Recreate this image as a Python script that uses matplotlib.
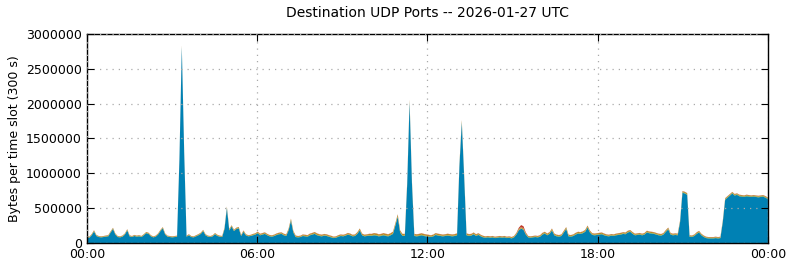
import numpy as np
import matplotlib
matplotlib.use("Agg")
import matplotlib.pyplot as plt

# bytes per 300 s slot, in thousands, one row per hour (12 slots)
udp_main = [
    80, 75, 110, 165, 100, 85, 80, 85, 90, 95, 150, 200,
    120, 85, 80, 90, 120, 180, 95, 85, 100, 90, 95, 85,
    110, 140, 130, 95, 80, 90, 120, 170, 210, 120, 90, 85,
    80, 85, 90, 1200, 2810, 1300, 90, 110, 85, 80, 95, 110,
    130, 170, 110, 90, 85, 95, 125, 100, 90, 85, 200, 500,
    180, 235, 170, 200, 210, 100, 160, 110, 95, 100, 110, 120,
    140, 110, 120, 130, 110, 95, 90, 100, 115, 125, 130, 110,
    100, 180, 320, 150, 85, 80, 85, 100, 95, 90, 110, 120,
    130, 110, 100, 95, 105, 100, 90, 80, 70, 75, 90, 100,
    95, 105, 120, 110, 95, 100, 130, 180, 110, 95, 100, 105,
    100, 110, 105, 95, 100, 110, 100, 95, 110, 130, 250, 375,
    150, 100, 100, 850, 2020, 850, 100, 95, 100, 110, 100, 95,
    90, 85, 95, 115, 105, 100, 95, 100, 105, 100, 95, 100,
    110, 1100, 1730, 950, 110, 100, 105, 125, 100, 115, 95, 80,
    75, 80, 75, 80, 70, 75, 80, 75, 80, 70, 75, 65,
    80, 120, 180, 205, 190, 120, 80, 75, 80, 85, 80, 90,
    120, 135, 110, 130, 180, 110, 95, 90, 100, 150, 200, 95,
    90, 100, 120, 135, 130, 140, 160, 220, 150, 115, 110, 115,
    120, 125, 110, 100, 95, 105, 100, 110, 115, 120, 130, 125,
    150, 160, 130, 110, 115, 120, 110, 120, 150, 140, 135, 130,
    120, 110, 105, 120, 160, 195, 120, 110, 115, 110, 300, 720,
    710, 690, 90, 85, 100, 130, 150, 110, 85, 70, 65, 65,
    65, 70, 65, 70, 300, 620, 650, 680, 710, 680, 690, 670,
    665, 660, 670, 665, 660, 665, 660, 655, 660, 665, 650, 630,
]

udp_green = [
    5, 5, 6, 6, 5, 5, 5, 5, 6, 6, 6, 6,
    5, 5, 5, 6, 6, 6, 5, 5, 5, 5, 6, 6,
    6, 6, 5, 5, 5, 5, 6, 6, 6, 5, 5, 5,
    5, 5, 5, 6, 8, 6, 5, 5, 5, 5, 5, 6,
    6, 6, 5, 5, 5, 5, 6, 6, 5, 5, 6, 8,
    6, 6, 6, 6, 6, 5, 6, 5, 5, 5, 6, 6,
    6, 6, 6, 6, 6, 5, 5, 6, 6, 6, 6, 6,
    6, 6, 8, 6, 5, 5, 5, 6, 6, 6, 6, 6,
    7, 7, 7, 6, 6, 6, 6, 6, 6, 6, 6, 6,
    6, 6, 6, 6, 6, 6, 6, 7, 6, 6, 6, 6,
    8, 8, 8, 8, 8, 8, 8, 8, 8, 8, 8, 8,
    8, 8, 8, 8, 8, 8, 8, 8, 8, 8, 8, 8,
    7, 7, 7, 7, 7, 7, 7, 7, 7, 7, 7, 7,
    7, 7, 8, 7, 7, 7, 7, 7, 7, 7, 6, 6,
    6, 6, 6, 6, 6, 6, 6, 6, 6, 6, 6, 6,
    6, 6, 6, 6, 6, 6, 6, 6, 6, 6, 6, 6,
    7, 7, 7, 7, 7, 7, 7, 7, 7, 7, 7, 7,
    7, 7, 7, 7, 7, 7, 7, 7, 7, 7, 7, 7,
    7, 7, 7, 7, 7, 7, 7, 7, 7, 7, 7, 7,
    7, 7, 7, 7, 7, 7, 7, 7, 7, 7, 7, 7,
    7, 7, 7, 7, 7, 7, 7, 7, 7, 7, 7, 8,
    8, 8, 7, 7, 7, 7, 7, 7, 7, 7, 7, 7,
    7, 7, 7, 7, 7, 8, 8, 8, 8, 8, 8, 8,
    8, 8, 8, 8, 8, 8, 8, 8, 8, 8, 8, 8,
]

udp_orange = [
    8, 8, 9, 10, 9, 8, 8, 8, 9, 9, 10, 10,
    9, 8, 8, 9, 9, 10, 9, 8, 9, 9, 9, 8,
    9, 10, 10, 9, 8, 9, 9, 10, 10, 9, 8, 8,
    8, 8, 8, 10, 12, 10, 9, 9, 8, 8, 9, 9,
    10, 10, 9, 9, 8, 9, 10, 10, 9, 9, 10, 12,
    12, 12, 12, 12, 12, 10, 12, 10, 10, 10, 12, 12,
    14, 14, 14, 14, 12, 12, 12, 12, 14, 14, 14, 14,
    14, 16, 18, 16, 14, 12, 12, 14, 14, 14, 16, 16,
    18, 18, 16, 16, 16, 16, 14, 14, 12, 12, 14, 14,
    14, 14, 16, 16, 14, 14, 16, 18, 16, 16, 16, 18,
    20, 22, 22, 20, 20, 22, 22, 20, 20, 22, 24, 26,
    22, 20, 20, 22, 24, 22, 20, 20, 20, 20, 20, 18,
    18, 16, 16, 18, 18, 18, 16, 16, 18, 18, 18, 18,
    18, 20, 22, 20, 18, 18, 16, 16, 16, 16, 14, 14,
    12, 12, 12, 12, 12, 12, 12, 12, 12, 12, 12, 12,
    12, 14, 16, 16, 16, 14, 12, 12, 12, 12, 12, 14,
    16, 16, 16, 16, 18, 16, 14, 14, 14, 16, 18, 14,
    14, 14, 16, 16, 16, 16, 18, 20, 18, 16, 16, 16,
    16, 16, 16, 14, 14, 14, 14, 14, 16, 16, 16, 16,
    16, 16, 16, 14, 14, 14, 14, 14, 16, 16, 16, 16,
    14, 14, 14, 14, 16, 16, 14, 14, 14, 14, 14, 14,
    14, 14, 12, 12, 12, 14, 14, 12, 12, 10, 10, 10,
    10, 10, 10, 10, 12, 12, 12, 12, 12, 12, 12, 12,
    12, 12, 12, 12, 12, 12, 12, 12, 12, 12, 12, 12,
]

udp_red = [
    2, 2, 2, 2, 2, 2, 2, 2, 2, 2, 2, 2,
    2, 2, 2, 2, 2, 2, 2, 2, 2, 2, 2, 2,
    2, 2, 2, 2, 2, 2, 2, 2, 2, 2, 2, 2,
    2, 2, 2, 2, 3, 2, 2, 2, 2, 2, 2, 2,
    2, 2, 2, 2, 2, 2, 2, 2, 2, 2, 2, 3,
    2, 2, 2, 2, 2, 2, 2, 2, 2, 2, 2, 2,
    3, 3, 3, 3, 3, 3, 3, 3, 3, 3, 3, 3,
    3, 3, 3, 3, 3, 3, 3, 3, 3, 3, 3, 3,
    3, 3, 3, 3, 3, 3, 3, 3, 3, 3, 3, 3,
    3, 3, 3, 3, 3, 3, 3, 3, 3, 3, 3, 3,
    3, 3, 3, 3, 3, 3, 3, 3, 3, 3, 3, 3,
    3, 3, 3, 3, 3, 3, 3, 3, 3, 3, 3, 3,
    3, 3, 3, 3, 3, 3, 3, 3, 3, 3, 3, 3,
    3, 3, 3, 3, 3, 3, 3, 3, 3, 3, 3, 3,
    3, 3, 3, 3, 3, 3, 3, 3, 3, 3, 3, 3,
    3, 5, 15, 30, 28, 10, 3, 3, 3, 3, 3, 3,
    3, 3, 3, 3, 3, 3, 3, 3, 3, 3, 3, 3,
    3, 3, 3, 3, 3, 3, 3, 3, 3, 3, 3, 3,
    3, 3, 3, 3, 3, 3, 3, 3, 3, 3, 3, 3,
    3, 3, 3, 3, 3, 3, 3, 3, 3, 3, 3, 3,
    3, 3, 3, 3, 3, 3, 3, 3, 3, 3, 3, 3,
    3, 3, 3, 3, 3, 3, 3, 3, 3, 3, 3, 3,
    3, 3, 3, 3, 3, 3, 3, 3, 3, 3, 3, 3,
    3, 3, 3, 3, 3, 3, 3, 3, 3, 3, 3, 3,
]

hour_ticks = [0, 6, 12, 18, 24]
hour_labels = ["00:00", "06:00", "12:00", "18:00", "00:00"]
title = "Destination UDP Ports -- 2026-01-27 UTC"

layers = np.array([udp_main, udp_green, udp_orange, udp_red]) * 1000
hours = np.linspace(0, 24, layers.shape[1])

fig = plt.figure(figsize=(7.9, 2.67), dpi=100)
ax = fig.add_axes([0.110, 0.090, 0.862, 0.783])

ax.stackplot(hours, layers,
             colors=["#0081b4", "#5a9a3a", "#b98a22", "#c0392b"],
             linewidth=0)

ax.set_xlim(0, 24)
ax.set_ylim(0, 3000000)
ax.set_yticks(np.arange(0, 3000001, 500000))
ax.set_xticks(hour_ticks)
ax.set_xticklabels(hour_labels)
ax.ticklabel_format(axis="y", style="plain", useOffset=False)
ax.tick_params(direction="in", top=True, right=True, labelsize=9, length=5)
ax.grid(True, linestyle=(0, (1, 4)), color="#aaaaaa", linewidth=0.9)
ax.set_axisbelow(False)
for s in ax.spines.values():
    s.set_linewidth(1.0)

ax.set_ylabel("Bytes per time slot (300 s)", fontsize=9)
ax.set_title(title, fontsize=10, pad=12)

fig.savefig("out.png", dpi=100)
